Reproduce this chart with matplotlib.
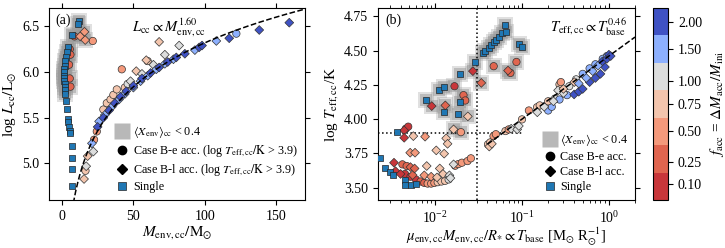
import numpy as np
import matplotlib
matplotlib.use("Agg")
import matplotlib.pyplot as plt
from matplotlib.colors import ListedColormap, BoundaryNorm
from matplotlib.cm import ScalarMappable
from matplotlib.lines import Line2D

plt.rcParams['font.family'] = ['Liberation Serif', 'DejaVu Serif']
plt.rcParams['mathtext.fontset'] = 'stix'
plt.rcParams['font.size'] = 10

# f_acc colour bins
f_ticks = [0.10, 0.25, 0.50, 0.75, 1.00, 1.50, 2.00]
f_edges = [0.0, 0.175, 0.375, 0.625, 0.875, 1.25, 1.75, 2.25]
f_colors = ['#c8363a', '#e0654f', '#f4997b', '#f3c5ad', '#dcdddd', '#8db0fe', '#3f52c4']
single_color = '#1f77b4'

# ---------------- panel (a): M_env,cc vs log L_cc ----------------
a_single_x = [12, 11, 7, 4.5, 3.5, 3, 2.5, 2, 1.5, 1.5, 1.5, 1.5, 1.5, 2, 2, 2, 2.5,
              3, 3.5, 4, 4.5, 5, 5.5, 6, 7, 7, 7, 7]
a_single_y = [6.56, 6.53, 6.41, 6.27, 6.22, 6.17, 6.12, 6.07, 6.03, 6.00, 5.96, 5.93, 5.90,
              5.87, 5.84, 5.80, 5.76, 5.68, 5.60, 5.49, 5.45, 5.40, 5.36, 5.33, 5.19, 5.06, 4.94, 4.75]
a_single_halo = [1] * 17 + [0] * 11

a_be_x = [8.8, 5.5, 6, 5, 5.5, 6, 21.6, 41.9, 16.5, 22.5, 24.4, 29, 31.4, 34, 36, 38.4, 44,
          60, 46, 122]
a_be_y = [6.39, 6.25, 6.19, 6.08, 5.93, 5.84, 6.34, 6.03, 4.92, 5.26, 5.35, 5.59, 5.66, 5.70,
          5.75, 5.81, 5.83, 6.12, 5.87, 6.42]
a_be_f = [0.25, 0.25, 0.25, 0.25, 0.25, 0.25, 0.50, 0.50, 0.75, 0.50, 0.50, 0.75, 0.75, 0.75,
          0.75, 0.75, 0.75, 0.75, 1.00, 1.50]
a_be_halo = [1, 1, 1, 1, 1, 1, 0, 0, 0, 0, 0, 0, 0, 0, 0, 0, 0, 0, 0, 0]

a_bl_x = [15.8, 12.8, 16.3, 15.5, 18, 52, 59, 68,
          17, 22, 48, 56, 64, 72, 82,
          21, 26, 30, 35, 40, 44, 50, 55, 60, 66, 72, 78, 93, 108,
          25, 29, 33, 37, 41, 45, 50, 56, 62, 68, 74, 80, 86, 96, 98, 117, 138, 159]
a_bl_y = [6.44, 6.39, 6.35, 4.83, 5.08, 6.01, 6.13, 6.33,
          4.97, 5.13, 5.90, 5.98, 6.08, 6.19, 6.29,
          5.22, 5.46, 5.53, 5.62, 5.70, 5.76, 5.83, 5.90, 5.96, 6.03, 6.09, 6.14, 6.24, 6.34,
          5.40, 5.50, 5.58, 5.66, 5.73, 5.79, 5.85, 5.93, 5.99, 6.05, 6.11, 6.16, 6.20, 6.27,
          6.29, 6.37, 6.46, 6.54]
a_bl_f = [0.50, 0.50, 0.50, 0.75, 0.75, 0.75, 0.75, 0.75] + [1.00] * 7 + [1.50] * 14 + [2.00] * 18
a_bl_halo = [1, 1, 1] + [0] * 44

# ---------------- panel (b): T_base proxy vs log T_eff,cc ----------------
b_single_x = [0.0078, 0.0110, 0.0127, 0.0191, 0.0191, 0.0185, 0.0128, 0.029, 0.0352, 0.0379,
              0.0413, 0.0444, 0.0472, 0.0502, 0.054, 0.059, 0.0662, 0.0633, 0.0935, 0.1,
              0.00366, 0.00231, 0.00264, 0.00301, 0.00323, 0.00452, 0.0045, 0.00522, 0.00603]
b_single_y = [4.14, 4.215, 4.235, 4.33, 4.125, 4.035, 4.05, 4.42, 4.483, 4.50,
              4.52, 4.544, 4.563, 4.58, 4.597, 4.628, 4.635, 4.689, 4.548, 4.524,
              3.907, 3.714, 3.646, 3.617, 3.59, 3.554, 3.52, 3.52, 3.529]
b_single_halo = [1] * 20 + [0] * 9

b_be_x = [0.0472, 0.0863, 0.0736, 0.0167, 0.0212, 0.0222, 0.0198,
          0.0046, 0.0049, 0.0042, 0.0047, 0.0045, 0.0052, 0.006, 0.0068, 0.0075, 0.0082, 0.009,
          0.0098, 0.0107, 0.0118, 0.013, 0.0143, 0.017, 0.0185, 0.0203, 0.0236, 0.0258,
          0.0406, 0.043, 0.047, 0.05, 0.0645, 0.0703, 0.1, 0.12, 0.149, 0.16, 0.2, 0.22, 0.2,
          0.24, 0.27, 0.27, 0.28, 0.33, 0.35, 0.42, 0.5, 0.6, 0.7, 0.85, 0.95]
b_be_y = [4.386, 4.417, 4.337, 4.24, 4.175, 4.136, 3.905,
          3.93, 3.945, 3.67, 3.658, 3.60, 3.58, 3.56, 3.545, 3.535, 3.53, 3.53,
          3.535, 3.54, 3.545, 3.55, 3.56, 3.66, 3.672, 3.682, 3.694, 3.714,
          3.816, 3.83, 3.876, 3.89, 3.913, 3.925, 3.998, 4.063, 4.087, 4.10, 4.063, 4.09, 4.13,
          4.15, 4.143, 4.253, 4.27, 4.175, 4.24, 4.29, 4.33, 4.37, 4.40, 4.44, 4.46]
b_be_f = [0.25, 0.25, 0.25, 0.10, 0.25, 0.25, 0.50,
          0.10, 0.10, 0.25, 0.25, 0.10, 0.10, 0.10, 0.25, 0.25, 0.50, 0.50,
          0.50, 0.75, 0.75, 0.75, 1.00, 0.50, 0.50, 0.50, 0.50, 0.50,
          0.75, 0.75, 0.50, 0.50, 0.75, 0.50, 0.75, 0.50, 0.75, 0.75, 1.50, 1.50, 0.75,
          1.00, 1.50, 0.75, 0.50, 1.50, 1.00, 1.00, 1.50, 1.50, 1.50, 1.50, 1.50]
b_be_halo = [1] * 7 + [0] * 46

b_bl_x = [0.0272, 0.034, 0.069, 0.00914, 0.0131, 0.0238, 0.0163,
          0.0044, 0.0044, 0.00561, 0.00766, 0.0134, 0.0139, 0.00516, 0.00587, 0.0103, 0.0127,
          0.00336, 0.00551, 0.008, 0.0163, 0.0113, 0.0123, 0.0146, 0.015, 0.0035, 0.004,
          0.0052, 0.0058, 0.0075, 0.009, 0.0105,
          0.042, 0.045, 0.075, 0.088, 0.092, 0.15, 0.18, 0.23, 0.3, 0.26, 0.3, 0.4,
          0.398, 0.45, 0.5, 0.6, 0.7, 0.8, 0.9, 0.84, 0.95, 1.0, 1.05, 0.45, 0.55, 0.65, 0.75]
b_bl_y = [4.35, 4.264, 4.354, 4.095, 4.10, 4.02, 3.925,
          3.918, 3.864, 3.876, 3.872, 3.86, 3.82, 3.755, 3.755, 3.772, 3.748,
          3.682, 3.592, 3.658, 3.67, 3.64, 3.60, 3.59, 3.57, 3.62, 3.60,
          3.65, 3.64, 3.59, 3.58, 3.575,
          3.80, 3.82, 3.93, 3.925, 3.95, 4.05, 4.09, 4.13, 4.19, 4.21, 4.22, 4.27,
          4.18, 4.20, 4.22, 4.27, 4.30, 4.33, 4.38, 4.42, 4.44, 4.47, 4.46, 4.26, 4.30, 4.35, 4.39]
b_bl_f = [0.10, 0.25, 0.25, 0.10, 0.25, 0.75, 0.75,
          0.10, 0.10, 0.75, 0.50, 0.75, 0.75, 0.50, 0.50, 0.75, 0.75,
          0.10, 0.25, 0.75, 1.00, 0.75, 0.75, 1.00, 1.00, 0.10, 0.10,
          0.25, 0.25, 0.50, 0.50, 0.75,
          0.75, 0.75, 1.00, 1.00, 1.00, 1.00, 1.00, 1.00, 1.00, 1.00, 0.75, 0.75,
          2.00, 2.00, 2.00, 2.00, 2.00, 2.00, 2.00, 2.00, 2.00, 2.00, 2.00, 1.50, 1.50, 1.50, 1.50]
b_bl_halo = [1] * 7 + [0] * 52

# fitted relations
a_slope, a_norm = 1.60, 3.12
b_slope, b_norm = 0.46, 4.46

cmap = ListedColormap(f_colors)
norm = BoundaryNorm(f_edges, cmap.N)


def draw_points(ax, sx, sy, sh, ex, ey, ef, eh, lx, ly, lf, lh):
    # grey halos for <X_env>_cc < 0.4
    hx = [x for x, h in zip(list(sx) + list(ex) + list(lx), list(sh) + list(eh) + list(lh)) if h]
    hy = [y for y, h in zip(list(sy) + list(ey) + list(ly), list(sh) + list(eh) + list(lh)) if h]
    ax.scatter(hx, hy, marker='s', s=120, color='0.6', alpha=0.3, lw=0, zorder=1)
    ax.scatter(hx, hy, marker='s', s=75, color='0.6', alpha=0.5, lw=0, zorder=1)
    ax.scatter(ex, ey, c=ef, cmap=cmap, norm=norm, marker='o', s=28,
               edgecolors='0.2', linewidths=0.5, zorder=3)
    ax.scatter(lx, ly, c=lf, cmap=cmap, norm=norm, marker='D', s=20,
               edgecolors='0.2', linewidths=0.5, zorder=3)
    ax.scatter(sx, sy, color=single_color, marker='s', s=25,
               edgecolors='0.15', linewidths=0.5, zorder=4)


def legend_handles(suffix):
    return [Line2D([], [], ls='none', marker='s', ms=11, color='0.72', mec='none'),
            Line2D([], [], ls='none', marker='o', ms=6, color='k'),
            Line2D([], [], ls='none', marker='D', ms=5.5, color='k'),
            Line2D([], [], ls='none', marker='s', ms=6, color=single_color, mec='0.15', mew=0.5)], \
           [r'$\langle X_{\rm env}\rangle_{\rm cc}$ < 0.4',
            'Case B-e acc.' + suffix,
            'Case B-l acc.' + suffix,
            'Single']


def style_axes(ax):
    ax.tick_params(direction='out', top=True, right=True, which='both', length=3.5)
    ax.tick_params(which='minor', length=2)


fig = plt.figure(figsize=(7.25, 2.48), dpi=100)
ax1 = fig.add_axes([0.0676, 0.1935, 0.3531, 0.774])
ax2 = fig.add_axes([0.5214, 0.1935, 0.3545, 0.774])
cax = fig.add_axes([0.901, 0.1935, 0.0207, 0.774])

# panel (a)
draw_points(ax1, a_single_x, a_single_y, a_single_halo, a_be_x, a_be_y, a_be_f, a_be_halo,
            a_bl_x, a_bl_y, a_bl_f, a_bl_halo)
mm = np.linspace(8, 170, 200)
ax1.plot(mm, a_slope * np.log10(mm) + a_norm, 'k--', lw=1.1, zorder=5)
ax1.set_xlim(-9, 170)
ax1.set_ylim(4.6, 6.7)
ax1.set_xticks([0, 50, 100, 150])
ax1.set_yticks([5.0, 5.5, 6.0, 6.5])
ax1.set_xlabel(r'$M_{\rm env,cc}/{\rm M}_{\odot}$', fontsize=11, labelpad=1)
ax1.set_ylabel(r'log $L_{\rm cc}/{\rm L}_{\odot}$', fontsize=11, labelpad=3)
ax1.text(0.025, 0.935, '(a)', transform=ax1.transAxes, fontsize=10, va='center')
ax1.text(0.47, 0.9, r'$L_{\rm cc} \propto M_{\rm env,cc}^{1.60}$', transform=ax1.transAxes,
         fontsize=10.5, ha='center', va='center')
h, l = legend_handles(r' (log $T_{\rm eff,cc}/{\rm K}$ > 3.9)')
ax1.legend(h, l, loc='lower right', frameon=False, fontsize=8.7, handletextpad=0.3,
           labelspacing=0.25, borderaxespad=0.15, handlelength=1.2)
style_axes(ax1)

# panel (b)
draw_points(ax2, b_single_x, b_single_y, b_single_halo, b_be_x, b_be_y, b_be_f, b_be_halo,
            b_bl_x, b_bl_y, b_bl_f, b_bl_halo)
tb = np.logspace(np.log10(0.04), np.log10(2.0), 100)
ax2.plot(tb, b_slope * np.log10(tb) + b_norm, 'k--', lw=1.1, zorder=5)
ax2.axvline(0.03, color='k', ls=':', lw=1.1, zorder=2)
ax2.plot([2.2e-3, 0.1], [3.9, 3.9], color='k', ls=':', lw=1.1, zorder=2)
ax2.set_xscale('log')
ax2.set_xlim(2.2e-3, 2.0)
ax2.set_ylim(3.41, 4.81)
ax2.set_yticks([3.50, 3.75, 4.00, 4.25, 4.50, 4.75])
ax2.set_yticklabels(['3.50', '3.75', '4.00', '4.25', '4.50', '4.75'])
ax2.set_xlabel(r'$\mu_{\rm env,cc}M_{\rm env,cc}/R_{*} \propto T_{\rm base}$ [M$_{\odot}$ R$_{\odot}^{-1}$]',
               fontsize=10.5, labelpad=0)
ax2.set_ylabel(r'log $T_{\rm eff,cc}$/K', fontsize=11, labelpad=3)
ax2.text(0.03, 0.935, '(b)', transform=ax2.transAxes, fontsize=10, va='center')
ax2.text(0.97, 0.9, r'$T_{\rm eff,cc} \propto T_{\rm base}^{0.46}$', transform=ax2.transAxes,
         fontsize=10.5, ha='right', va='center')
h, l = legend_handles('')
ax2.legend(h, l, loc='lower right', frameon=False, fontsize=8.7, handletextpad=0.3,
           labelspacing=0.25, borderaxespad=0.15, handlelength=1.2)
style_axes(ax2)

# colorbar
cb = fig.colorbar(ScalarMappable(norm=norm, cmap=cmap), cax=cax, ticks=f_ticks)
cb.ax.set_yticklabels(['%.2f' % t for t in f_ticks])
cb.ax.tick_params(direction='out', length=3.5, labelsize=10)
cb.ax.minorticks_off()
cb.set_label(r'$f_{\rm acc}$ = $\Delta M_{\rm acc}/M_{\rm ini}$', fontsize=11)

fig.savefig('out.png', dpi=100)
